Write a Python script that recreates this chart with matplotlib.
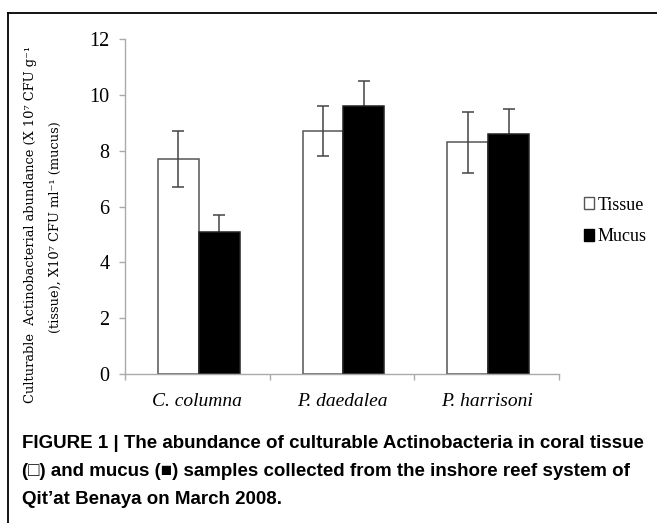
import matplotlib.pyplot as plt
from matplotlib.patches import Patch
from matplotlib.lines import Line2D
import numpy as np

species = ['C. columna', 'P. daedalea', 'P. harrisoni']
tissue = [7.7, 8.7, 8.3]
tissue_err = [1.0, 0.9, 1.1]
mucus = [5.1, 9.6, 8.6]
mucus_err = [0.6, 0.9, 0.9]

W, H = 657, 523
fig = plt.figure(figsize=(W / 100, H / 100), dpi=100)
ax = fig.add_axes([125 / W, 1 - 374 / H, (559 - 125) / W, (374 - 39) / H])

x = np.arange(len(species))
bw = 0.283
off = 0.01
ax.bar(x - bw / 2 + off, tissue, bw, color='white', edgecolor='#555555', linewidth=1.1, zorder=2)
ax.errorbar(x - bw / 2 + off, tissue, yerr=tissue_err, fmt='none', ecolor='#444444',
            elinewidth=1.1, capsize=4, capthick=1.1, zorder=3)
ax.bar(x + bw / 2 + off, mucus, bw, color='black', edgecolor='#222222', linewidth=1.1, zorder=2)
ax.errorbar(x + bw / 2 + off, mucus, yerr=mucus_err, fmt='none', ecolor='#444444',
            elinewidth=1.1, capsize=4, capthick=1.1, zorder=1)

ax.set_xlim(-0.5, 2.5)
ax.set_ylim(0, 12)
ax.set_yticks(range(0, 13, 2))
ax.set_xticks([-0.5, 0.5, 1.5, 2.5])
ax.set_xticklabels([])
for i, s in enumerate(species):
    ax.text(i, -0.68, s, ha='center', va='top', fontsize=14, style='italic',
            family='Liberation Serif')

for sp in ['top', 'right']:
    ax.spines[sp].set_visible(False)
for sp in ['left', 'bottom']:
    ax.spines[sp].set_color('#aaaaaa')
    ax.spines[sp].set_linewidth(1.0)
ax.tick_params(axis='both', color='#aaaaaa', length=4, width=1.0)
ax.tick_params(axis='y', labelsize=14.5, pad=7)
for lab in ax.get_yticklabels():
    lab.set_family('Liberation Serif')

ylab1 = 'Culturable  Actinobacterial abundance (X 10\u2077 CFU g\u207b\u00b9'
ylab2 = '(tissue), X10\u2077 CFU ml\u207b\u00b9 (mucus)'
fig.text(31 / W, 1 - 224 / H, ylab1, rotation=90, ha='center', va='center',
         fontsize=9.4, family=['DejaVu Serif'])
fig.text(55 / W, 1 - 227 / H, ylab2, rotation=90, ha='center', va='center',
         fontsize=9.4, family=['DejaVu Serif'])

handles = [Patch(facecolor='white', edgecolor='#555555', linewidth=1.0),
           Patch(facecolor='black', edgecolor='black')]
fig.legend(handles, ['Tissue', 'Mucus'], loc='center left',
           bbox_to_anchor=(584 / W, 1 - 221 / H), bbox_transform=fig.transFigure,
           frameon=False, handlelength=0.55, handleheight=0.65, handletextpad=0.2,
           labelspacing=0.8, borderpad=0, borderaxespad=0,
           prop={'family': 'Liberation Serif', 'size': 13})

caption = ['FIGURE 1 | The abundance of culturable Actinobacteria in coral tissue',
           '(\u25a1) and mucus (\u25a0) samples collected from the inshore reef system of',
           'Qit\u2019at Benaya on March 2008.']
for k, line in enumerate(caption):
    fig.text(22 / W, 1 - (443 + 28.5 * k) / H, line, ha='left', va='center',
             fontsize=13.5, weight='bold', family=['Liberation Sans', 'DejaVu Sans'])

# outer frame (only left and top edges visible)
fig.add_artist(Line2D([8 / W, 8 / W], [0, 1 - 13 / H], color='black', lw=1.3,
                      transform=fig.transFigure))
fig.add_artist(Line2D([8 / W, 1], [1 - 13 / H, 1 - 13 / H], color='black', lw=1.3,
                      transform=fig.transFigure))

plt.savefig('out.png', dpi=100)
